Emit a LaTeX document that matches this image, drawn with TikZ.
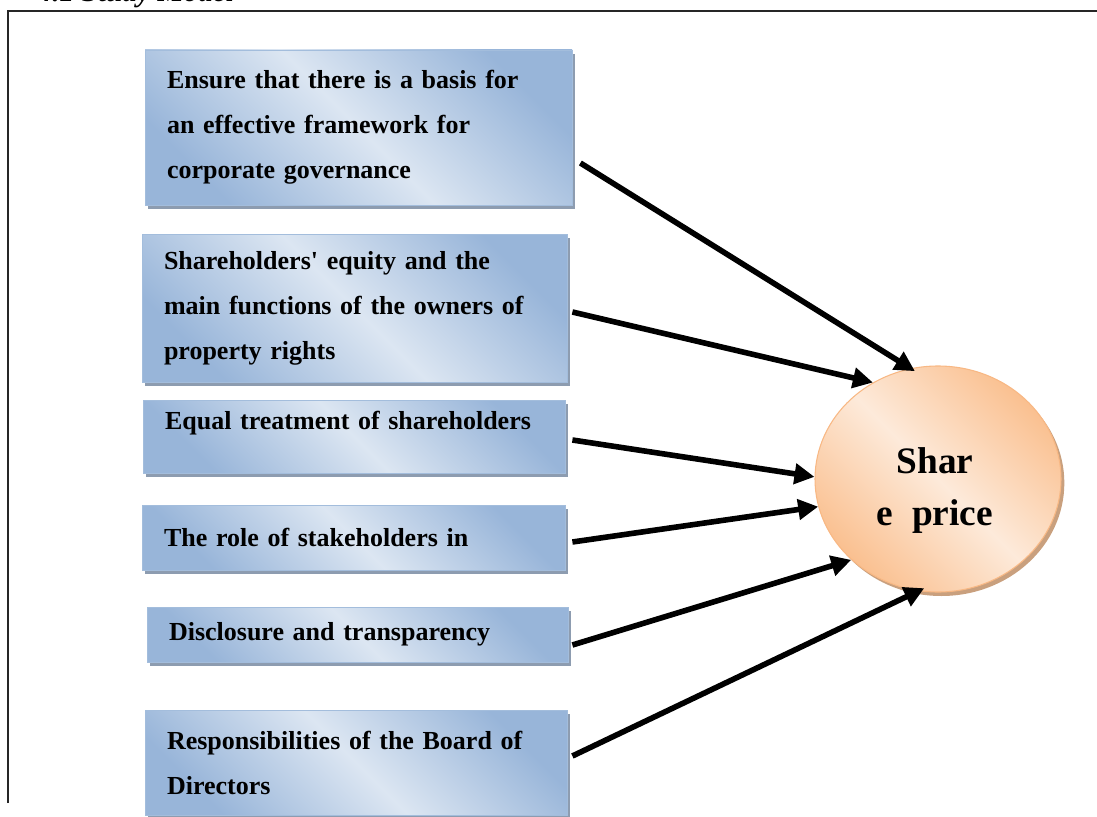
\documentclass[tikz,border=0pt]{standalone}
\usepackage{fontspec}
\setmainfont{Liberation Serif}
\usetikzlibrary{shapes.geometric,shadows,arrows.meta}
\definecolor{boxdark}{HTML}{98B5D9}
\definecolor{boxlight}{HTML}{DCE6F2}
\definecolor{boxborder}{HTML}{A3BDDC}
\definecolor{boxshadow}{HTML}{8D9CB0}
\definecolor{spdark}{HTML}{FAC090}
\definecolor{splight}{HTML}{FDEADA}
\definecolor{spborder}{HTML}{F8B884}
\definecolor{spshadow}{HTML}{C9A07E}
\tikzset{
  bx/.style={rectangle, draw=boxborder, line width=0.6pt,
    left color=boxdark, right color=boxdark, middle color=boxlight, shading angle=135,
    drop shadow={shadow xshift=2.25pt, shadow yshift=-3pt, fill=boxshadow, opacity=1},
    inner xsep=16.5pt, inner ysep=0pt, align=left,
    font=\fontsize{19.5}{33.75}\selectfont\bfseries},
  spnode/.style={ellipse, draw=spborder, line width=0.8pt, inner sep=0pt,
    left color=spdark, right color=spdark, middle color=splight, shading angle=135,
    drop shadow={shadow xshift=2.5pt, shadow yshift=-3pt, fill=spshadow, opacity=1},
    minimum width=184.5pt, minimum height=169.5pt},
  sptxt/.style={align=center, font=\fontsize{28}{39}\selectfont\bfseries},
  arr/.style={line width=4.2pt, -{Triangle[length=15pt,width=15pt]}},
  frame/.style={line width=1.2pt, draw=black!85}
}
\begin{document}
\begin{tikzpicture}[x=0.75pt,y=-0.75pt]
\useasboundingbox (0,0) rectangle (1097,817);
\node[font=\fontsize{22}{26}\selectfont\bfseries\itshape, anchor=base west] (title) at (33,2) {4.1 Study Model};
\draw[frame] (8,803) -- (8,11) -- (1110,11);

\node[bx, text width=287.25pt, minimum height=116.25pt] (b1) at (358.5,127.5)
  {Ensure that there is a basis for\\an effective framework for\\corporate governance};
\node[bx, text width=285.75pt, minimum height=111pt] (b2) at (354.5,308)
  {Shareholders\textquotesingle{} equity and the\\main functions of the owners of\\property rights};
\node[bx, text width=283.5pt, minimum height=54.75pt, text depth=24pt] (b3) at (354,436.5)
  {Equal treatment of shareholders};
\node[bx, text width=284.25pt, minimum height=48.75pt] (b4) at (353.5,537.5)
  {The role of stakeholders in};
\node[bx, text width=282.75pt, minimum height=41.25pt] (b5) at (357.5,634.5)
  {Disclosure and transparency};
\node[bx, text width=283.5pt, minimum height=78.75pt] (b6) at (356,762.5)
  {Responsibilities of the Board of\\Directors};

\node[spnode] (sp) at (938,479) {};
\node[sptxt] (sptext) at (935,491) {Shar\\e\ \ price};

\draw[arr, shorten >=-4pt] ([shift={(8,35.5)}]b1.east) -- (sp.104);
\draw[arr] ([shift={(5,4)}]b2.east) -- (sp.124);
\draw[arr] ([shift={(7,3.5)}]b3.east) -- (sp.179);
\draw[arr] ([shift={(7,4.5)}]b4.east) -- (sp.193);
\draw[arr] ([shift={(4,10.5)}]b5.east) -- (sp.223);
\draw[arr, shorten >=-5pt] ([shift={(5,-6.5)}]b6.east) -- (sp.260);
\end{tikzpicture}
\end{document}
